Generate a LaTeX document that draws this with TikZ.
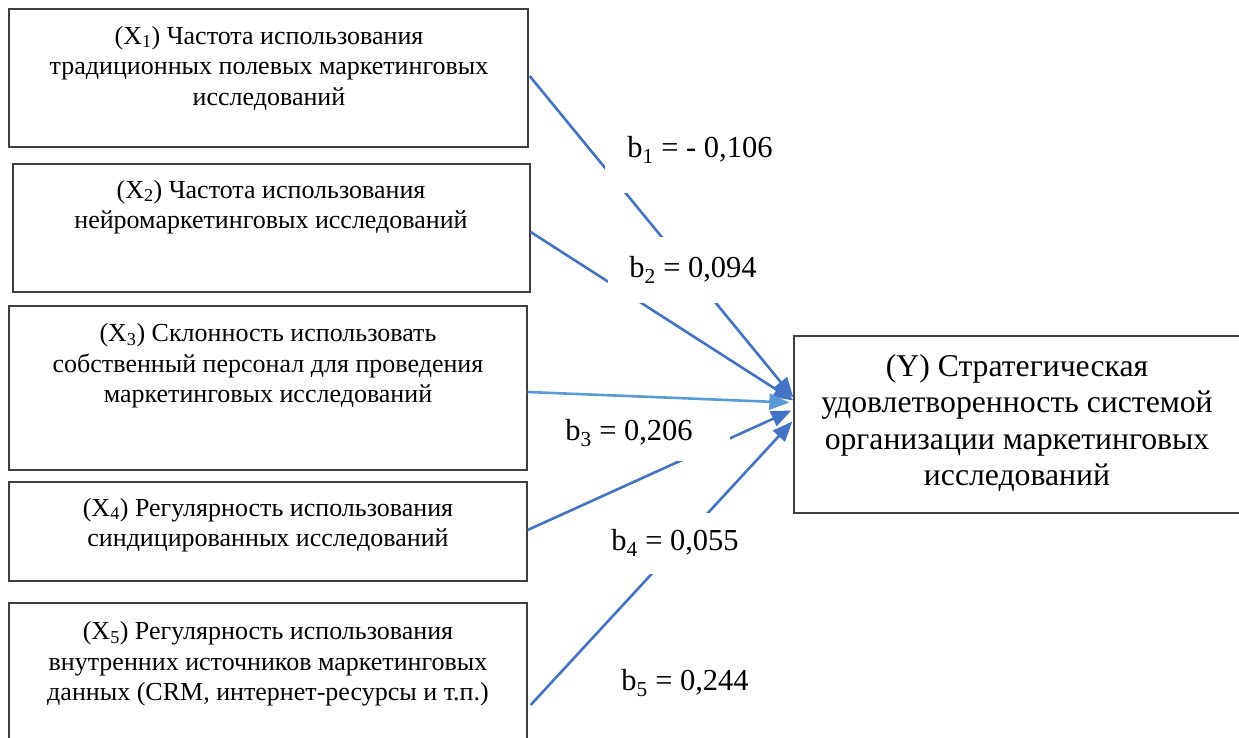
\documentclass[tikz,border=0pt]{standalone}
\usepackage{fontspec}
\setmainfont{Liberation Serif}
\usetikzlibrary{arrows.meta,calc}
\definecolor{arr}{HTML}{4472C4}
\definecolor{arrlight}{HTML}{5B9BD5}
\definecolor{frame}{HTML}{404040}
\tikzset{
  boxx/.style={draw=frame, line width=1.3pt, inner sep=0pt},
  boxtext/.style={inner sep=0pt, align=center, font=\fontsize{26}{30.5}\selectfont},
  ytext/.style={inner sep=0pt, align=center, font=\fontsize{31.7}{36.5}\selectfont},
  conn/.style={draw=arr, line width=2.6pt, -{Triangle[length=20pt,width=16pt]}},
  connlight/.style={conn, draw=arrlight},
  lbl/.style={fill=white, inner sep=0pt, font=\fontsize{30.5}{36}\selectfont},
}
\begin{document}
\begin{tikzpicture}[x=1pt,y=-1pt]
\useasboundingbox (0,0) rectangle (1239,738);
% boxes
\node[boxx, minimum width=519pt, minimum height=138pt] (x1) at (268.5,78) {};
\node[boxx, minimum width=517pt, minimum height=128pt] (x2) at (271.5,228) {};
\node[boxx, minimum width=518pt, minimum height=164pt] (x3) at (268,388) {};
\node[boxx, minimum width=518pt, minimum height=99pt] (x4) at (268,531.5) {};
\node[boxx, minimum width=518pt, minimum height=157pt] (x5) at (268,681.5) {};
\node[boxx, minimum width=446pt, minimum height=177pt] (y) at (1017,424.5) {};
% texts
\node[boxtext] (t1) at (269,68) {(X\textsubscript{1}) Частота использования\\традиционных полевых маркетинговых\\исследований};
\node[boxtext] (t2) at (271,207) {(X\textsubscript{2}) Частота использования\\нейромаркетинговых исследований};
\node[boxtext] (t3) at (268,366) {(X\textsubscript{3}) Склонность использовать\\собственный персонал для проведения\\маркетинговых исследований};
\node[boxtext] (t4) at (268,525) {(X\textsubscript{4}) Регулярность использования\\синдицированных исследований};
\node[boxtext] (t5) at (268,664) {(X\textsubscript{5}) Регулярность использования\\внутренних источников маркетинговых\\данных (CRM, интернет-ресурсы и т.п.)};
\node[ytext] (ty) at (1017,423) {(Y) Стратегическая\\удовлетворенность системой\\организации маркетинговых\\исследований};
% connector end points
\coordinate (s1) at ($(x1.east)+(1,-2)$);
\coordinate (s2) at ($(x2.east)+(0,4)$);
\coordinate (s3) at ($(x3.east)+(0,4)$);
\coordinate (s4) at ($(x4.east)+(0,-1.5)$);
\coordinate (s5) at ($(x5.east)+(3,23.5)$);
\coordinate (e1) at ($(y.west)+(0,-27)$);
\coordinate (e2) at ($(y.west)+(0,-24)$);
\coordinate (e3) at ($(y.west)+(-4,-22)$);
\coordinate (e4) at ($(y.west)+(-2,-14)$);
\coordinate (e5) at ($(y.west)+(-1,-3)$);
\draw[conn] (s1) -- (e1);
\draw[conn] (s2) -- (e2);
\draw[connlight] (s3) -- (e3);
\draw[conn] (s4) -- (e4);
\draw[conn] (s5) -- (e5);
% labels
\node[lbl, minimum width=190pt, minimum height=86pt] (l1) at (700,150) {b\textsubscript{1} = - 0,106};
\node[lbl, minimum width=170pt, minimum height=66pt] (l2) at (693,270) {b\textsubscript{2} = 0,094};
\node[lbl, minimum width=202pt, minimum height=56pt] (l3) at (629,433) {b\textsubscript{3} = 0,206};
\node[lbl, minimum width=170pt, minimum height=61pt] (l4) at (675,543) {b\textsubscript{4} = 0,055};
\node[lbl, minimum width=170pt, minimum height=66pt] (l5) at (685,683) {b\textsubscript{5} = 0,244};
\end{tikzpicture}
\end{document}
